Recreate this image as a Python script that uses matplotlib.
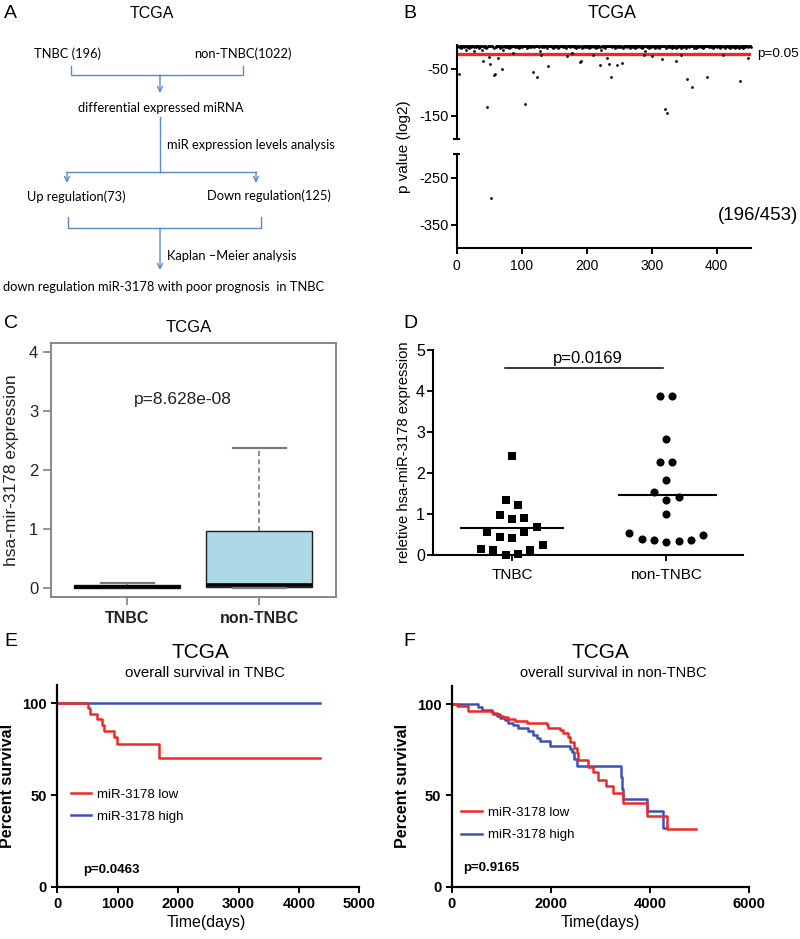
import numpy as np
import matplotlib
matplotlib.use('Agg')
import matplotlib.pyplot as plt
from matplotlib.transforms import blended_transform_factory

plt.rcParams['font.family'] = ['Liberation Sans', 'DejaVu Sans']
plt.rcParams['axes.unicode_minus'] = False

# ---------------- data ----------------
# Panel B: -log p values per miRNA (index order); band digits -> level
band_rows = [
    "21312423121325132141231213621312241321512312413212",
    "13212314231213241231521312132141231271312132142312",
    "31213214213123124132121421361231213212413212131421",
    "23121413212131231423121321712131423121321241312321",
    "31241321213214123121352132141231213241312141231213",
    "21312413212312142312132141312123124132162131242131",
    "12314213124131231213142131231214213124132121341231",
    "21413123121321431241231213124131214213123124132121",
    "31214231213141213214231213142131241213214123121312",
    "213",
]
band_levels = [0, -1.5, -3, -4.5, -7, -10, -13, -16]
outlier_idx = [4, 40, 46, 49, 52, 53, 57, 59, 64, 70, 105, 117, 124, 130, 141,
               170, 190, 191, 210, 220, 231, 235, 237, 247, 255, 289, 300, 316,
               320, 324, 337, 345, 355, 362, 385, 410, 436, 449]
outlier_val = [-62, -33, -131, -25, -41, -294, -63, -61, -28, -51, -126, -58,
               -68, -22, -44, -23, -37, -33, -22, -42, -28, -41, -68, -42, -38,
               -22, -23, -30, -137, -145, -33, -22, -73, -89, -68, -22, -77, -27]
cutoff_val = -20

# Panel C: box statistics
c_groups = ['TNBC', 'non-TNBC']
c_q1 = [0.0, 0.015]
c_med = [0.015, 0.05]
c_q3 = [0.05, 0.96]
c_wlo = [0.0, 0.0]
c_whi = [0.075, 2.37]

# Panel D: relative expression
d_groups = ['TNBC', 'non-TNBC']
tnbc_vals = [2.42, 1.35, 1.23, 0.97, 0.88, 0.92, 0.68, 0.56, 0.45, 0.41, 0.56,
             0.16, 0.12, 0.0, 0.02, 0.13, 0.24]
tnbc_off = [0.0, -0.04, 0.04, -0.08, 0.0, 0.08, 0.16, -0.16, -0.08, 0.0, 0.08,
            -0.2, -0.12, -0.04, 0.04, 0.12, 0.2]
non_vals = [3.87, 3.87, 2.84, 2.28, 2.28, 1.83, 1.55, 1.34, 1.43, 1.01, 0.54,
            0.39, 0.37, 0.32, 0.34, 0.37, 0.49]
non_off = [-0.04, 0.04, 0.0, -0.04, 0.04, 0.0, -0.08, 0.0, 0.08, 0.0, -0.24,
           -0.16, -0.08, 0.0, 0.08, 0.16, 0.24]

# Panel E: survival in TNBC
e_low_t = [0, 513, 541, 652, 735, 778, 944, 983, 1689, 4350]
e_low_s = [100, 97.3, 94.2, 91.3, 88.2, 85.0, 81.8, 77.6, 70.0, 70.0]
e_high_t = [0, 4350]
e_high_s = [100, 100]

# Panel F: survival in non-TNBC
f_low_t = [0, 100, 330, 806, 907, 974, 1040, 1141, 1276, 1512, 1915, 1948, 2183,
           2250, 2351, 2385, 2466, 2520, 2553, 2754, 2855, 2956, 3111, 3258,
           3447, 3931, 4347, 4925]
f_low_s = [100, 99.3, 96.3, 95.4, 94.5, 93.5, 92.8, 91.9, 91.0, 89.9, 88.5, 87.1,
           85.8, 84.0, 82.1, 79.4, 76.2, 73.3, 69.6, 65.5, 62.8, 58.7, 55.0,
           51.1, 45.8, 38.9, 31.6, 31.6]
f_high_t = [0, 537, 605, 806, 840, 907, 974, 1075, 1141, 1242, 1343, 1545, 1646,
            1726, 1780, 1982, 2385, 2419, 2472, 2520, 3407, 3440, 3460, 3944,
            4267, 4335]
f_high_s = [100, 98.7, 96.8, 96.0, 94.6, 93.6, 92.6, 91.2, 89.9, 88.5, 87.1, 85.2,
            83.4, 81.6, 79.7, 76.9, 75.6, 73.8, 70.1, 66.2, 60.0, 53.5, 48.0, 41.3,
            32.3, 32.3]

RED = '#ec2b27'
BLUE = '#3a52b4'

# ---------------- figure ----------------
W, H = 800, 939
fig = plt.figure(figsize=(W / 100, H / 100), dpi=100)


def add_ax(x0, y0, x1, y1):
    return fig.add_axes([x0 / W, 1 - y1 / H, (x1 - x0) / W, (y1 - y0) / H])


def ftext(x, y, s, **kw):
    kw.setdefault('ha', 'center')
    kw.setdefault('va', 'center')
    fig.text(x / W, 1 - y / H, s, **kw)


for lx, ly, lab in [(4, 13, 'A'), (403, 13, 'B'), (4, 324, 'C'), (403, 324, 'D'),
                    (4, 641, 'E'), (403, 641, 'F')]:
    ftext(lx, ly, lab, ha='left', fontsize=14)

# ---------------- Panel A ----------------
axA = add_ax(0, 0, 400, 320)
axA.set_xlim(0, 400)
axA.set_ylim(320, 0)
axA.axis('off')
fc = '#5b8bc8'
fa = dict(family=['Lato', 'DejaVu Sans'], fontsize=9.3, va='center')
axA.text(152, 13, 'TCGA', ha='center', va='center', fontsize=11.5)
axA.text(68, 54, 'TNBC (196)', ha='center', **fa)
axA.text(243, 54, 'non-TNBC(1022)', ha='center', **fa)
axA.text(161, 108, 'differential expressed miRNA', ha='center', **fa)
axA.text(167, 145, 'miR expression levels analysis', ha='left', **fa)
axA.text(76, 197, 'Up regulation(73)', ha='center', **fa)
axA.text(269, 196, 'Down regulation(125)', ha='center', **fa)
axA.text(167, 256, 'Kaplan \u2013Meier analysis', ha='left', **fa)
axA.text(3, 287, 'down regulation miR-3178 with poor prognosis  in TNBC', ha='left', **fa)

lk = dict(color=fc, lw=1)
axA.plot([71, 71, 243, 243], [66, 75, 75, 66], **lk)
axA.plot([160, 160], [117, 172], **lk)
axA.plot([67, 256], [172, 172], **lk)
axA.plot([68, 68, 261, 261], [217, 228, 228, 217], **lk)
ap = dict(arrowstyle='->', color=fc, lw=1, shrinkA=0, shrinkB=0, mutation_scale=9)
for (x, y0, y1) in [(160, 75, 93), (67, 172, 183), (256, 172, 183), (160, 228, 270)]:
    axA.annotate('', xy=(x, y1), xytext=(x, y0), arrowprops=ap)

# ---------------- Panel B ----------------
b_vals = [band_levels[int(c)] for c in ''.join(band_rows)]
for i, v in zip(outlier_idx, outlier_val):
    b_vals[i - 1] = v
b_idx = np.arange(1, len(b_vals) + 1)
b_vals = np.array(b_vals, dtype=float)

axB1 = add_ax(456.7, 45, 751, 139)
axB2 = add_ax(456.7, 154, 751, 248)
up = b_vals >= -200
axB1.scatter(b_idx[up], b_vals[up], s=4, color='black', lw=0, clip_on=False, zorder=3)
axB2.scatter(b_idx[~up], b_vals[~up], s=4, color='black', lw=0, clip_on=False, zorder=3)
axB1.axhline(cutoff_val, color=RED, lw=2.4, zorder=2)
axB1.set_ylim(-200, 0)
axB2.set_ylim(-400, -200)
for ax in (axB1, axB2):
    ax.set_xlim(0, 453)
    for sp in ('top', 'right'):
        ax.spines[sp].set_visible(False)
    ax.spines['left'].set_linewidth(1.5)
    ax.tick_params(axis='y', direction='out', length=4, width=1.4, labelsize=10.5, pad=2)
    tr = blended_transform_factory(ax.transAxes, ax.transData)
    ax.plot([-0.012, 0.012], [-200, -200], transform=tr, color='black', lw=1.5,
            clip_on=False, solid_capstyle='butt')
axB1.spines['bottom'].set_visible(False)
axB1.set_xticks([])
axB1.set_yticks([-50, -150])
axB2.set_yticks([-250, -350])
axB2.spines['bottom'].set_linewidth(1.5)
axB2.set_xticks([0, 100, 200, 300, 400])
axB2.tick_params(axis='x', direction='out', length=4, width=1.4, labelsize=10, pad=4)
ftext(612, 13, 'TCGA', fontsize=12.7)
ftext(757, 54, 'p=0.05', ha='left', fontsize=9.7)
ftext(798, 215, '(196/453)', ha='right', fontsize=13.5)
ftext(404, 147, 'p value (log2)', rotation=90, fontsize=11)

# ---------------- Panel C ----------------
axC = add_ax(50.7, 343.3, 335.7, 597.3)
stats = [dict(label=g, q1=a, med=m, q3=b, whislo=lo, whishi=hi)
         for g, a, m, b, lo, hi in zip(c_groups, c_q1, c_med, c_q3, c_wlo, c_whi)]
axC.bxp(stats, positions=[1, 2], widths=0.8, showfliers=False, patch_artist=True,
        boxprops=dict(facecolor='#add8e6', edgecolor='#1c1c1c', lw=1.0),
        medianprops=dict(color='black', lw=2.6, solid_capstyle='butt'),
        whiskerprops=dict(color='#7a7a7a', ls=(0, (3, 2)), lw=1.2),
        capprops=dict(color='#7a7a7a', lw=1.6))
axC.set_xlim(0.42, 2.58)
axC.set_ylim(-0.163, 4.153)
axC.set_yticks([0, 1, 2, 3, 4])
axC.set_xticks([1, 2])
axC.set_xticklabels(c_groups, fontweight='bold', fontsize=11.5)
for sp in axC.spines.values():
    sp.set_color('#7f7f7f')
    sp.set_linewidth(1.3)
axC.tick_params(axis='both', color='#7f7f7f', length=6, width=1.2, labelcolor='#222222')
axC.tick_params(axis='y', labelsize=12, pad=3)
axC.tick_params(axis='x', pad=4)
axC.set_ylabel('hsa-mir-3178 expression', fontsize=12.5, color='#222222')
axC.yaxis.set_label_coords(-0.112, 0.5)
axC.text(1.42, 3.2, 'p=8.628e-08', ha='center', va='center', fontsize=12.5, color='#222222')
ftext(189, 328, 'TCGA', fontsize=12)

# ---------------- Panel D ----------------
axD = add_ax(433.3, 350, 743.3, 555.3)
axD.scatter(1 + np.array(tnbc_off), tnbc_vals, marker='s', s=30, color='black',
            lw=0, clip_on=False, zorder=3)
axD.scatter(2 + np.array(non_off), non_vals, marker='o', s=34, color='black',
            lw=0, clip_on=False, zorder=3)
axD.hlines(np.mean(tnbc_vals), 0.66, 1.34, color='black', lw=1.5)
axD.hlines(np.mean(non_vals), 1.69, 2.33, color='black', lw=1.5)
axD.plot([0.957, 1.98], [4.55, 4.55], color='black', lw=1.1)
axD.text(1.49, 4.8, 'p=0.0169', ha='center', va='center', fontsize=12)
axD.set_xlim(0.49, 2.5)
axD.set_ylim(0, 5)
axD.set_yticks([0, 1, 2, 3, 4, 5])
axD.set_xticks([1, 2])
axD.set_xticklabels(d_groups, fontsize=11)
for sp in ('top', 'right'):
    axD.spines[sp].set_visible(False)
for sp in ('left', 'bottom'):
    axD.spines[sp].set_linewidth(1.5)
axD.tick_params(axis='both', direction='out', length=4, width=1.3)
axD.tick_params(axis='y', labelsize=11.5, pad=2)
axD.tick_params(axis='x', pad=5)
axD.set_ylabel('reletive hsa-miR-3178 expression', fontsize=10.7)
axD.yaxis.set_label_coords(-0.072, 0.5)


# ---------------- Panels E, F ----------------
def km_axes(ax, xmax, xticks, low, high, pval, leg_xy, spacing):
    ax.step(high[0], high[1], where='post', color=BLUE, lw=1.8, label='miR-3178 high')
    ax.step(low[0], low[1], where='post', color=RED, lw=1.8, label='miR-3178 low')
    ax.set_xlim(0, xmax)
    ax.set_ylim(0, 110)
    ax.set_xticks(xticks)
    ax.set_yticks([0, 50, 100])
    for sp in ('top', 'right'):
        ax.spines[sp].set_visible(False)
    for sp in ('left', 'bottom'):
        ax.spines[sp].set_linewidth(1.6)
    ax.tick_params(axis='both', direction='out', length=4, width=1.4, labelsize=10.6)
    for lab in ax.get_xticklabels() + ax.get_yticklabels():
        lab.set_fontweight('bold')
    h, l = ax.get_legend_handles_labels()
    ax.legend(h[::-1], l[::-1], loc='upper left', bbox_to_anchor=leg_xy, frameon=False,
              fontsize=9.5, handlelength=1.55, handletextpad=0.45, borderpad=0,
              borderaxespad=0, labelspacing=spacing)
    ax.set_ylabel('Percent survival', fontsize=11.5, fontweight='bold')
    ax.yaxis.set_label_coords(-0.14, 0.5)
    ax.text(pval[0], pval[1], pval[2], fontsize=9.5, fontweight='bold', ha='left', va='center')


axE = add_ax(57.3, 685, 359.3, 886.7)
km_axes(axE, 5000, [0, 1000, 2000, 3000, 4000, 5000], (e_low_t, e_low_s),
        (e_high_t, e_high_s), (430, 9, 'p=0.0463'), (0.045, 0.485), 0.7)
ftext(200, 653, 'TCGA', fontsize=15)
ftext(205, 673, 'overall survival in TNBC', fontsize=10.8)
ftext(206.7, 923, 'Time(days)', fontsize=11.5)

axF = add_ax(451.7, 686, 749.3, 886.7)
km_axes(axF, 6000, [0, 2000, 4000, 6000], (f_low_t, f_low_s),
        (f_high_t, f_high_s), (230, 10, 'p=0.9165'), (0.032, 0.4), 0.8)
ftext(600, 653, 'TCGA', fontsize=15)
ftext(613, 673, 'overall survival in non-TNBC', fontsize=10.5)
ftext(600, 923, 'Time(days)', fontsize=11.5)

fig.savefig('out.png', dpi=100)
